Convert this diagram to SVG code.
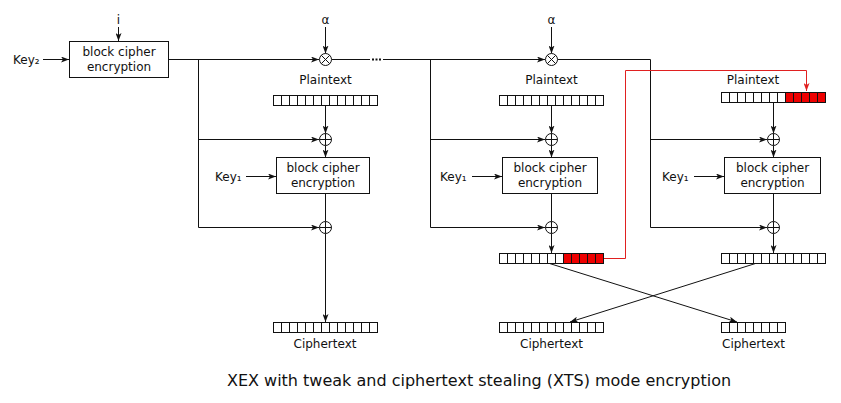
<svg xmlns="http://www.w3.org/2000/svg" width="841" height="403" viewBox="0 0 841 403">
<style>
text{font-family:"DejaVu Sans","Liberation Sans",sans-serif;font-size:12px;fill:#111;}
.title{font-size:16px;text-anchor:middle;}
.mid{text-anchor:middle;}
.ln{stroke:#111;stroke-width:1;fill:none;}
.arr{stroke:#111;stroke-width:1;fill:none;marker-end:url(#ah);}
.red{stroke:#e02020;stroke-width:1;fill:none;}
.box{fill:#fff;stroke:#111;stroke-width:1;}
.cell{fill:#fff;stroke:#111;stroke-width:1;}
.rcell{fill:#ee0000;stroke:#111;stroke-width:1;}
.op{fill:#fff;stroke:#111;stroke-width:1;}
</style>
<defs>
<marker id="ah" viewBox="0 0 8 6" refX="8" refY="3" markerWidth="8" markerHeight="6" orient="auto" markerUnits="userSpaceOnUse"><path d="M0,0 L8,3 L0,6 L2,3 z" fill="#111"/></marker>
<marker id="ahr" viewBox="0 0 8 6" refX="8" refY="3" markerWidth="8" markerHeight="6" orient="auto" markerUnits="userSpaceOnUse"><path d="M0,0 L8,3 L0,6 L2,3 z" fill="#e02020"/></marker>
</defs>

<g id="connectors">
  <!-- tweak path -->
  <line class="arr" x1="118.5" y1="27" x2="118.5" y2="41"/>
  <line class="arr" x1="43" y1="59.5" x2="69" y2="59.5"/>
  <line class="arr" x1="168" y1="59.5" x2="319" y2="59.5"/>
  <line class="arr" x1="325.5" y1="27" x2="325.5" y2="53.5"/>
  <line class="ln" x1="331.5" y1="59.5" x2="370" y2="59.5"/>
  <line x1="372" y1="59.5" x2="382" y2="59.5" stroke="#111" stroke-width="2" stroke-dasharray="2,1.5"/>
  <line class="arr" x1="383" y1="59.5" x2="545" y2="59.5"/>
  <line class="arr" x1="551.5" y1="27" x2="551.5" y2="53.5"/>
  <polyline class="ln" points="557.5,59.5 650.5,59.5 650.5,227.5"/>
  <line class="ln" x1="198.5" y1="59.5" x2="198.5" y2="227.5"/>
  <line class="ln" x1="430.5" y1="59.5" x2="430.5" y2="227.5"/>
  <!-- column 1 -->
  <line class="arr" x1="198.5" y1="139.5" x2="319" y2="139.5"/>
  <line class="arr" x1="198.5" y1="227.5" x2="319" y2="227.5"/>
  <line class="arr" x1="325.5" y1="105" x2="325.5" y2="133.5"/>
  <line class="arr" x1="325.5" y1="145.5" x2="325.5" y2="157.5"/>
  <line class="ln" x1="325.5" y1="193" x2="325.5" y2="221.5"/>
  <line class="arr" x1="325.5" y1="233.5" x2="325.5" y2="322"/>
  <line class="arr" x1="246" y1="176.5" x2="276" y2="176.5"/>
  <!-- column 2 -->
  <line class="arr" x1="430.5" y1="139.5" x2="545" y2="139.5"/>
  <line class="arr" x1="430.5" y1="227.5" x2="545" y2="227.5"/>
  <line class="arr" x1="551.5" y1="105" x2="551.5" y2="133.5"/>
  <line class="arr" x1="551.5" y1="145.5" x2="551.5" y2="157.5"/>
  <line class="ln" x1="551.5" y1="193" x2="551.5" y2="221.5"/>
  <line class="arr" x1="551.5" y1="233.5" x2="551.5" y2="253"/>
  <line class="arr" x1="472" y1="176.5" x2="502" y2="176.5"/>
  <!-- column 3 -->
  <line class="arr" x1="650.5" y1="139.5" x2="767" y2="139.5"/>
  <line class="arr" x1="650.5" y1="227.5" x2="767" y2="227.5"/>
  <line class="arr" x1="773.5" y1="102" x2="773.5" y2="133.5"/>
  <line class="arr" x1="773.5" y1="145.5" x2="773.5" y2="157.5"/>
  <line class="ln" x1="773.5" y1="193" x2="773.5" y2="221.5"/>
  <line class="arr" x1="773.5" y1="233.5" x2="773.5" y2="253"/>
  <line class="arr" x1="694" y1="176.5" x2="724" y2="176.5"/>
  <!-- swap -->
  <line class="arr" x1="548" y1="263" x2="737" y2="322"/>
  <line class="arr" x1="757" y1="263" x2="570" y2="322"/>
  <!-- stealing path -->
  <polyline class="red" points="603,258.5 625.5,258.5 625.5,70.5 806.5,70.5 806.5,91" marker-end="url(#ahr)"/>
</g>

<g id="tweak-encryption">
  <rect class="box" x="69.5" y="41.5" width="99" height="36"/>
  <text class="mid" x="119" y="56">block cipher</text>
  <text class="mid" x="119" y="71">encryption</text>
</g>
<g id="key2"><text x="13" y="64">Key₂</text></g>
<g id="i"><text class="mid" x="118.5" y="24">i</text></g>

<g id="mul1">
  <text class="mid" x="325.5" y="24">α</text>
  <circle class="op" cx="325.5" cy="59.5" r="6"/>
  <path class="ln" d="M321.3,55.3 L329.7,63.7 M329.7,55.3 L321.3,63.7"/>
</g>
<g id="mul2">
  <text class="mid" x="551.5" y="24">α</text>
  <circle class="op" cx="551.5" cy="59.5" r="6"/>
  <path class="ln" d="M547.3,55.3 L555.7,63.7 M555.7,55.3 L547.3,63.7"/>
</g>

<!-- xor nodes -->
<g id="xor1a"><circle class="op" cx="325.5" cy="139.5" r="6"/><path class="ln" d="M319.5,139.5 H331.5 M325.5,133.5 V145.5"/></g>
<g id="xor1b"><circle class="op" cx="325.5" cy="227.5" r="6"/><path class="ln" d="M319.5,227.5 H331.5 M325.5,221.5 V233.5"/></g>
<g id="xor2a"><circle class="op" cx="551.5" cy="139.5" r="6"/><path class="ln" d="M545.5,139.5 H557.5 M551.5,133.5 V145.5"/></g>
<g id="xor2b"><circle class="op" cx="551.5" cy="227.5" r="6"/><path class="ln" d="M545.5,227.5 H557.5 M551.5,221.5 V233.5"/></g>
<g id="xor3a"><circle class="op" cx="773.5" cy="139.5" r="6"/><path class="ln" d="M767.5,139.5 H779.5 M773.5,133.5 V145.5"/></g>
<g id="xor3b"><circle class="op" cx="773.5" cy="227.5" r="6"/><path class="ln" d="M767.5,227.5 H779.5 M773.5,221.5 V233.5"/></g>

<!-- encryption boxes -->
<g id="enc1">
  <rect class="box" x="276.5" y="157.5" width="93" height="36"/>
  <text class="mid" x="323" y="172">block cipher</text>
  <text class="mid" x="323" y="187">encryption</text>
</g>
<g id="key1a"><text x="215" y="181">Key₁</text></g>
<g id="enc2">
  <rect class="box" x="502.5" y="157.5" width="95" height="36"/>
  <text class="mid" x="550" y="172">block cipher</text>
  <text class="mid" x="550" y="187">encryption</text>
</g>
<g id="key1b"><text x="440" y="181">Key₁</text></g>
<g id="enc3">
  <rect class="box" x="724.5" y="157.5" width="96" height="36"/>
  <text class="mid" x="772.5" y="172">block cipher</text>
  <text class="mid" x="772.5" y="187">encryption</text>
</g>
<g id="key1c"><text x="662" y="181">Key₁</text></g>

<!-- plaintext blocks -->
<g id="plain1">
  <text class="mid" x="325.5" y="84">Plaintext</text>
  <rect class="cell" x="273.5" y="95.5" width="104" height="10"/>
  <path class="ln" d="M281.5,95.5v10M289.5,95.5v10M297.5,95.5v10M305.5,95.5v10M313.5,95.5v10M321.5,95.5v10M329.5,95.5v10M337.5,95.5v10M345.5,95.5v10M353.5,95.5v10M361.5,95.5v10M369.5,95.5v10"/>
</g>
<g id="plain2">
  <text class="mid" x="551.5" y="84">Plaintext</text>
  <rect class="cell" x="499.5" y="95.5" width="104" height="10"/>
  <path class="ln" d="M507.5,95.5v10M515.5,95.5v10M523.5,95.5v10M531.5,95.5v10M539.5,95.5v10M547.5,95.5v10M555.5,95.5v10M563.5,95.5v10M571.5,95.5v10M579.5,95.5v10M587.5,95.5v10M595.5,95.5v10"/>
</g>
<g id="plain3">
  <text class="mid" x="753" y="84">Plaintext</text>
  <rect class="cell" x="721.5" y="92.5" width="64" height="10"/>
  <rect class="rcell" x="785.5" y="92.5" width="40" height="10"/>
  <path class="ln" d="M729.5,92.5v10M737.5,92.5v10M745.5,92.5v10M753.5,92.5v10M761.5,92.5v10M769.5,92.5v10M777.5,92.5v10M793.5,92.5v10M801.5,92.5v10M809.5,92.5v10M817.5,92.5v10"/>
</g>

<!-- intermediate output blocks -->
<g id="out2">
  <rect class="cell" x="499.5" y="253.5" width="64" height="10"/>
  <rect class="rcell" x="563.5" y="253.5" width="40" height="10"/>
  <path class="ln" d="M507.5,253.5v10M515.5,253.5v10M523.5,253.5v10M531.5,253.5v10M539.5,253.5v10M547.5,253.5v10M555.5,253.5v10M571.5,253.5v10M579.5,253.5v10M587.5,253.5v10M595.5,253.5v10"/>
</g>
<g id="out3">
  <rect class="cell" x="721.5" y="253.5" width="104" height="10"/>
  <path class="ln" d="M729.5,253.5v10M737.5,253.5v10M745.5,253.5v10M753.5,253.5v10M761.5,253.5v10M769.5,253.5v10M777.5,253.5v10M785.5,253.5v10M793.5,253.5v10M801.5,253.5v10M809.5,253.5v10M817.5,253.5v10"/>
</g>

<!-- ciphertext blocks -->
<g id="cipher1">
  <rect class="cell" x="273.5" y="322.5" width="104" height="10"/>
  <path class="ln" d="M281.5,322.5v10M289.5,322.5v10M297.5,322.5v10M305.5,322.5v10M313.5,322.5v10M321.5,322.5v10M329.5,322.5v10M337.5,322.5v10M345.5,322.5v10M353.5,322.5v10M361.5,322.5v10M369.5,322.5v10"/>
  <text class="mid" x="325" y="348">Ciphertext</text>
</g>
<g id="cipher2">
  <rect class="cell" x="499.5" y="322.5" width="104" height="10"/>
  <path class="ln" d="M507.5,322.5v10M515.5,322.5v10M523.5,322.5v10M531.5,322.5v10M539.5,322.5v10M547.5,322.5v10M555.5,322.5v10M563.5,322.5v10M571.5,322.5v10M579.5,322.5v10M587.5,322.5v10M595.5,322.5v10"/>
  <text class="mid" x="551.5" y="348">Ciphertext</text>
</g>
<g id="cipher3">
  <rect class="cell" x="721.5" y="322.5" width="64" height="10"/>
  <path class="ln" d="M729.5,322.5v10M737.5,322.5v10M745.5,322.5v10M753.5,322.5v10M761.5,322.5v10M769.5,322.5v10M777.5,322.5v10"/>
  <text class="mid" x="753.5" y="348">Ciphertext</text>
</g>

<g id="caption"><text class="title" x="479" y="386">XEX with tweak and ciphertext stealing (XTS) mode encryption</text></g>
</svg>
